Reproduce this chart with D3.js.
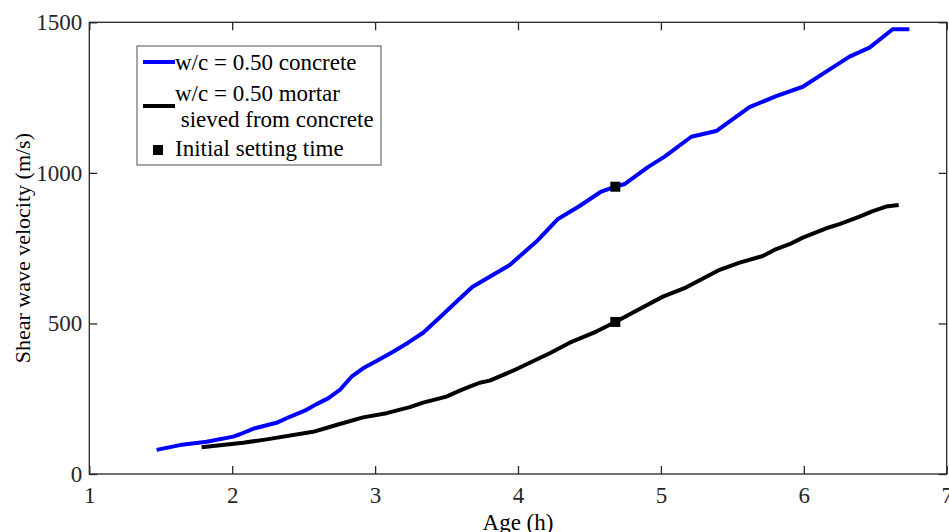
<!DOCTYPE html>
<html>
<head>
<meta charset="utf-8">
<script src="https://cdn.jsdelivr.net/npm/d3@7"></script>
<style>
  html, body { margin: 0; padding: 0; background: #fff; }
  svg { display: block; }
  text { font-family: "Liberation Serif", "Times New Roman", serif; }
</style>
</head>
<body>
<svg id="chart" width="949" height="532"></svg>
<script>
// ---- data ----
const concreteAge = [1.471,1.634,1.821,2.007,2.054,2.159,2.310,2.403,2.520,2.590,2.671,2.753,2.835,2.916,3.010,3.126,3.231,3.336,3.452,3.569,3.680,3.942,4.129,4.280,4.431,4.583,4.681,4.746,4.909,5.026,5.213,5.387,5.620,5.807,5.993,6.157,6.320,6.460,6.622,6.739];
const concreteVel = [80,96,107,124,132,152,170,190,213,232,251,279,323,351,375,406,436,469,520,572,621,694,772,847,890,938,954,963,1019,1054,1120,1139,1218,1255,1286,1336,1386,1416,1477,1477];
const mortarAge = [1.786,2.077,2.241,2.566,2.753,2.916,3.080,3.243,3.336,3.499,3.592,3.662,3.732,3.802,3.965,4.222,4.362,4.548,4.681,4.828,5.014,5.178,5.411,5.551,5.713,5.807,5.900,5.993,6.157,6.250,6.390,6.483,6.576,6.664];
const mortarVel = [89,104,115,140,166,188,202,222,237,257,277,290,303,310,343,401,436,473,505,542,589,620,678,702,724,747,763,785,816,830,855,873,888,893];
const settingAge = [4.681, 4.681];
const settingVel = [954, 505];
const xTicks = [1,2,3,4,5,6,7];
const yTicks = [0,500,1000,1500];
const legendLabels = ["w/c = 0.50 concrete", "w/c = 0.50 mortar", " sieved from concrete", "Initial setting time"];
const xLabel = "Age (h)";
const yLabel = "Shear wave velocity (m/s)";

// ---- layout ----
const svg = d3.select("#chart");
const L = 89.3, R = 946.7, T = 22.3, B = 474;
const x = d3.scaleLinear().domain([1,7]).range([L,R]);
const y = d3.scaleLinear().domain([0,1500]).range([B,T]);
const axisColor = "#262626";
const fs = 23;

// frame
svg.append("rect").attr("x",L).attr("y",T).attr("width",R-L).attr("height",B-T)
  .attr("fill","none").attr("stroke",axisColor).attr("stroke-width",1.3);

// axes
const gx = svg.append("g").attr("transform",`translate(0,${B})`)
  .call(d3.axisBottom(x).tickValues(xTicks).tickSizeInner(-8).tickSizeOuter(0).tickPadding(13).tickFormat(d3.format("d")));
const gxt = svg.append("g").attr("transform",`translate(0,${T})`)
  .call(d3.axisTop(x).tickValues(xTicks).tickSizeInner(-8).tickSizeOuter(0).tickFormat(""));
const gy = svg.append("g").attr("transform",`translate(${L},0)`)
  .call(d3.axisLeft(y).tickValues(yTicks).tickSizeInner(-8).tickSizeOuter(0).tickPadding(7).tickFormat(d3.format("d")));
const gyr = svg.append("g").attr("transform",`translate(${R},0)`)
  .call(d3.axisRight(y).tickValues(yTicks).tickSizeInner(-8).tickSizeOuter(0).tickFormat(""));
[gx,gxt,gy,gyr].forEach(g => {
  g.select(".domain").remove();
  g.selectAll(".tick line").attr("stroke",axisColor).attr("stroke-width",1.3);
  g.selectAll(".tick text").attr("fill",axisColor).style("font-size",fs+"px").style("font-family","Liberation Serif");
});

// axis labels
svg.append("text").attr("x",(L+R)/2).attr("y",530).attr("text-anchor","middle")
  .attr("fill","#000").style("font-size",fs+"px").text(xLabel);
svg.append("text").attr("transform",`translate(30,${(T+B)/2}) rotate(-90)`).attr("text-anchor","middle")
  .attr("fill","#000").style("font-size",(fs-1)+"px").text(yLabel);

// lines
const line = d3.line().x(d => x(d[0])).y(d => y(d[1]));
const concrete = concreteAge.map((a,i) => [a, concreteVel[i]]);
const mortar = mortarAge.map((a,i) => [a, mortarVel[i]]);
svg.append("path").datum(concrete).attr("d",line).attr("fill","none")
  .attr("stroke","#0000ff").attr("stroke-width",4).attr("stroke-linejoin","round");
svg.append("path").datum(mortar).attr("d",line).attr("fill","none")
  .attr("stroke","#000").attr("stroke-width",4).attr("stroke-linejoin","round");

// markers
const ms = 10;
svg.selectAll(".mk").data(settingAge.map((a,i)=>[a,settingVel[i]])).enter().append("rect")
  .attr("x",d => x(d[0])-ms/2).attr("y",d => y(d[1])-ms/2).attr("width",ms).attr("height",ms).attr("fill","#000");

// legend
const lg = svg.append("g");
lg.append("rect").attr("x",137).attr("y",46).attr("width",244).attr("height",119)
  .attr("fill","#fff").attr("stroke","#6b6b6b").attr("stroke-width",1.2);
lg.append("line").attr("x1",143).attr("x2",175).attr("y1",62).attr("y2",62).attr("stroke","#0000ff").attr("stroke-width",4);
lg.append("line").attr("x1",143).attr("x2",175).attr("y1",106).attr("y2",106).attr("stroke","#000").attr("stroke-width",4);
lg.append("rect").attr("x",153).attr("y",145).attr("width",10).attr("height",10).attr("fill","#000");
const ly = [70,101,127,156];
legendLabels.forEach((t,i) => {
  lg.append("text").attr("x",175).attr("y",ly[i]).attr("fill","#000").style("font-size",fs+"px")
    .attr("xml:space","preserve").style("white-space","pre").text(t);
});
</script>
</body>
</html>
